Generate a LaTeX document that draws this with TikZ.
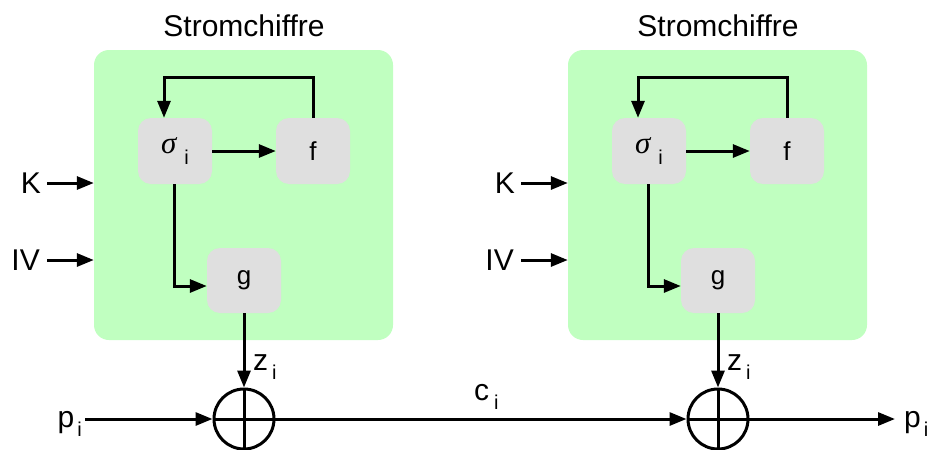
\documentclass[tikz,border=0pt]{standalone}
\usepackage{fontspec}
\setmainfont{Liberation Sans}
\newfontfamily\sigfont{Liberation Serif}
\usetikzlibrary{arrows.meta,calc}
\definecolor{boxgreen}{HTML}{C0FFC0}
\definecolor{innergray}{HTML}{DFDFDF}
\newcommand\lowi[1]{\raisebox{-9pt}{\fontsize{20}{20}\selectfont #1}}
\begin{document}
\begin{tikzpicture}[x=1pt,y=-1pt,
  arr/.style={line width=3pt,-{Triangle[length=17pt,width=13pt]}},
  ln/.style={line width=3pt},
  cipher/.style={fill=boxgreen,rounded corners=15pt,minimum width=299pt,minimum height=290pt,inner sep=0pt},
  fnbox/.style={fill=innergray,rounded corners=13pt,minimum width=74pt,minimum height=66pt,inner sep=0pt,font=\fontsize{26}{26}\selectfont},
  big/.style={font=\fontsize{30}{30}\selectfont,inner sep=0pt},
  xorop/.style={circle,draw,line width=3pt,minimum size=60pt,inner sep=0pt},
]
\useasboundingbox (0,0) rectangle (935,450);
\foreach \s/\n in {0/a,474/b}{
  \node[cipher] (box\n) at (243.5+\s,195) {};
  \node[big,anchor=base] (title\n) at (244+\s,36) {Stromchiffre};
  \node[fnbox] (sig\n) at (175+\s,151) {{\sigfont\itshape\fontsize{31}{31}\selectfont σ}\hspace{8pt}\raisebox{-11pt}{\fontsize{20}{20}\selectfont i}};
  \node[fnbox] (f\n) at (313+\s,151) {f};
  \node[fnbox,minimum height=65pt] (g\n) at (244+\s,280.5) {g};
  \node[big,anchor=east,text height=21.5pt,text depth=0pt] (K\n) at (41+\s,183) {K};
  \node[big,anchor=east,text height=21.5pt,text depth=0pt] (IV\n) at (40+\s,260) {IV};
  \draw[arr] ($(K\n.east)+(6,0)$) -- (K\n.east -| box\n.west);
  \draw[arr] ($(IV\n.east)+(7,0)$) -- (IV\n.east -| box\n.west);
  \draw[arr] (f\n.north) -- ++(0,-40) -| ($(sig\n.north)+(-11,0)$);
  \draw[arr] (sig\n) -- (f\n);
  \draw[arr] ($(sig\n.south)+(-1,0)$) |- ($(g\n.west)+(0,5.5)$);
  \node[xorop] (x\n) at (244+\s,419) {};
  \draw[ln] (x\n.north) -- (x\n.south);
  \draw[ln] (x\n.west) -- (x\n.east);
  \draw[arr] (g\n) -- (x\n);
  \node[big,anchor=base west] (z\n) at (253+\s,370) {z\hspace{4pt}\lowi{i}};
}
\node[big,anchor=base east] (pin) at (82,427) {p\hspace{3pt}\lowi{i}};
\draw[arr] ($(pin.east |- xa)+(3,0)$) -- (xa);
\draw[arr] (xa) -- (xb);
\node[big,anchor=base west] (ci) at (474,400) {c\hspace{5pt}\lowi{i}};
\node[big,anchor=base west] (pout) at (904,427) {p\hspace{3pt}\lowi{i}};
\draw[arr] (xb) -- ($(pout.west |- xb)+(-9,0)$);
\end{tikzpicture}
\end{document}
